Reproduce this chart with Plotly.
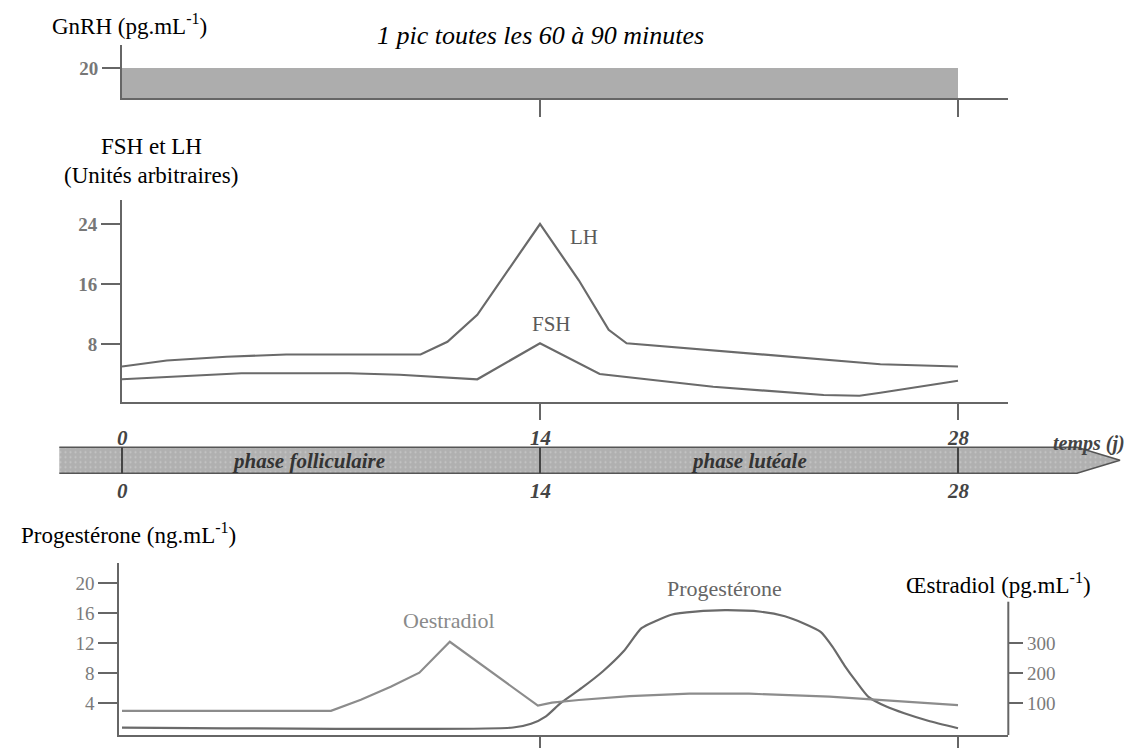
import plotly.graph_objects as go

# ---------------- data ----------------
gnrh_days = [0, 28]
gnrh_level = [20, 20]

lh_days = [0, 1.5, 3.5, 5.5, 8.6, 10.0, 10.9, 11.9, 14.0, 15.3, 16.3, 16.9, 25.4, 28.0]
lh_vals = [5.0, 5.8, 6.3, 6.6, 6.6, 6.6, 8.3, 11.9, 24.0, 16.5, 9.9, 8.1, 5.3, 5.0]

fsh_days = [0, 1.5, 4.0, 7.6, 9.3, 11.9, 14.0, 16.0, 19.8, 23.5, 24.7, 25.4, 28.0]
fsh_vals = [3.3, 3.6, 4.1, 4.1, 3.9, 3.3, 8.1, 4.0, 2.3, 1.2, 1.1, 1.5, 3.1]

prog_days = [0, 13.1, 13.7, 14.2, 14.7, 15.4, 16.1, 16.8, 17.4, 17.9, 18.4, 19.2, 20.2,
             21.4, 22.2, 22.8, 23.4, 23.8, 24.2, 24.6, 25.0, 25.6, 26.2, 27.0, 28.0]
prog_vals = [0.7, 0.7, 1.2, 2.2, 4.0, 6.0, 8.2, 10.9, 14.0, 15.0, 15.8, 16.2, 16.4,
             16.2, 15.6, 14.7, 13.5, 11.5, 9.0, 6.8, 4.8, 3.5, 2.6, 1.6, 0.6]

e2_days = [0, 7.0, 8.0, 9.0, 9.96, 10.98, 13.93, 14.4, 15.3, 17.0, 19.0, 21.0, 23.7, 25.5, 28.0]
e2_vals = [75, 75, 112, 155, 202, 305, 92, 102, 111, 124, 132, 132, 122, 110, 94]

phase_ticks = [0, 14, 28]
gnrh_ticks = [20]
fshlh_ticks = [8, 16, 24]
prog_ticks = [4, 8, 12, 16, 20]
e2_ticks = [100, 200, 300]

# ---------------- geometry helpers ----------------
W, H = 1145, 748
OFF = 8  # page body margin of the html output
SERIF = "Liberation Serif, Times New Roman, serif"
AX = "#666666"
PXDAY = 418 / 14.0


def fx(x):
    return (x - OFF) / W


def fy(y):
    return 1 - (y - OFF) / H


def dom_y(top, bottom):
    return [fy(bottom), fy(top)]


fig = go.Figure()

# GnRH panel
fig.add_trace(go.Scatter(x=gnrh_days, y=gnrh_level, mode="lines", fill="tozeroy",
                         fillcolor="#adadad", line=dict(width=0, color="#adadad"),
                         xaxis="x", yaxis="y", hoverinfo="skip"))

# FSH / LH panel
fig.add_trace(go.Scatter(x=lh_days, y=lh_vals, mode="lines",
                         line=dict(color="#6a6a6a", width=2.2), xaxis="x2", yaxis="y2"))
fig.add_trace(go.Scatter(x=fsh_days, y=fsh_vals, mode="lines",
                         line=dict(color="#6a6a6a", width=2.2), xaxis="x2", yaxis="y2"))

# Progesterone / Oestradiol panel
fig.add_trace(go.Scatter(x=prog_days, y=prog_vals, mode="lines", line_shape="spline",
                         line=dict(color="#6a6a6a", width=2.2, smoothing=0.6),
                         xaxis="x3", yaxis="y3"))
fig.add_trace(go.Scatter(x=e2_days, y=e2_vals, mode="lines",
                         line=dict(color="#8c8c8c", width=2.2), xaxis="x3", yaxis="y4"))

# time band (arrow)
x_left = (59.3 - 122) / PXDAY
x_body = (1077 - 122) / PXDAY
x_tip = (1120 - 122) / PXDAY
fig.add_trace(go.Scatter(x=[x_left, x_body, x_tip, x_body, x_left, x_left],
                         y=[1, 1, 0.5, 0, 0, 1], mode="lines", fill="toself",
                         fillcolor="#b0b0b0",
                         fillpattern=dict(shape=".", bgcolor="#b0b0b0", fgcolor="#dcdcdc",
                                          size=5, solidity=0.15),
                         line=dict(width=0), xaxis="x4", yaxis="y5", hoverinfo="skip"))
fig.add_trace(go.Scatter(x=[x_left, x_body, x_tip, x_body, x_left],
                         y=[1, 1, 0.5, 0, 0], mode="lines",
                         line=dict(color="#555555", width=1.6), xaxis="x4", yaxis="y5",
                         hoverinfo="skip"))

x_dom = [fx(122), fx(1008)]
x_rng = [0, (1008 - 122) / PXDAY]
common_x = dict(showgrid=False, zeroline=False, showline=True, linecolor=AX, linewidth=2,
                ticks="outside", tickcolor=AX, tickwidth=1.6, tickvals=phase_ticks[1:],
                showticklabels=False)
tickfont_b = dict(family=SERIF, size=19, color="#777777", weight="bold")
tickfont_r = dict(family=SERIF, size=19, color="#7a7a7a")
common_y = dict(showgrid=False, zeroline=False, showline=True, linecolor=AX, linewidth=2,
                ticks="outside", tickcolor=AX, tickwidth=1.6)

fig.update_layout(
    width=W, height=H, autosize=False, showlegend=False,
    margin=dict(l=0, r=0, t=0, b=0),
    paper_bgcolor="white", plot_bgcolor="rgba(0,0,0,0)",
    xaxis=dict(domain=x_dom, range=x_rng, anchor="y", ticklen=17, **common_x),
    yaxis=dict(domain=dom_y(45, 98), range=[0, 35.33], anchor="x", tickvals=gnrh_ticks,
               ticklen=18, tickfont=tickfont_b, **common_y),
    xaxis2=dict(domain=x_dom, range=x_rng, anchor="y2", ticklen=16, **common_x),
    yaxis2=dict(domain=dom_y(200, 401.7), range=[0.31, 27.2], anchor="x2",
                tickvals=fshlh_ticks, ticklen=19, tickfont=tickfont_b, **common_y),
    xaxis3=dict(domain=[fx(119.3), fx(1008)], range=[-0.09, x_rng[1]], anchor="y3",
                ticklen=14, **common_x),
    yaxis3=dict(domain=dom_y(562.7, 735), range=[-0.3, 22.76], anchor="x3",
                tickvals=prog_ticks, ticklen=19, tickfont=tickfont_r, **common_y),
    yaxis4=dict(domain=dom_y(562.7, 735), range=[-5.7, 568.7], overlaying="y3",
                side="right", anchor="free", position=fx(1008.3), showline=False,
                showgrid=False, zeroline=False, ticks="outside", ticklen=14,
                tickcolor=AX, tickwidth=1.6, tickvals=e2_ticks, tickfont=tickfont_r),
    xaxis4=dict(domain=[0, 1], range=[-(122 - OFF) / PXDAY, (W + OFF - 122) / PXDAY],
                anchor="y5", visible=False),
    yaxis5=dict(domain=dom_y(444.7, 475.9), range=[-0.1, 1.1], anchor="x4", visible=False),
)

shapes = []
# right axis line (oestradiol)
shapes.append(dict(type="line", xref="paper", yref="paper", x0=fx(1008.3), x1=fx(1008.3),
                   y0=fy(735), y1=fy(601.7), line=dict(color=AX, width=2)))
for d in phase_ticks:
    shapes.append(dict(type="line", xref="x4", yref="y5", x0=d, x1=d, y0=0, y1=1,
                       line=dict(color="#444444", width=2)))
fig.update_layout(shapes=shapes)

ann = []


def add_text(x, y, text, size, color="black"):
    ann.append(dict(x=fx(x), y=fy(y), xref="paper", yref="paper", text=text,
                    showarrow=False, xanchor="center", yanchor="middle",
                    font=dict(family=SERIF, size=size, color=color)))


add_text(130, 25, "GnRH (pg.mL<sup>-1</sup>)", 23)
add_text(540, 35, "<i>1 pic toutes les 60 à 90 minutes</i>", 26)
add_text(151, 147, "FSH et LH", 23)
add_text(151, 175, "(Unités arbitraires)", 23)
add_text(584, 237, "LH", 21, "#5a5a5a")
add_text(551, 324, "FSH", 21, "#5a5a5a")
add_text(128, 533, "Progestérone (ng.mL<sup>-1</sup>)", 23)
add_text(998, 583, "Œstradiol (pg.mL<sup>-1</sup>)", 23)
add_text(449, 620, "Oestradiol", 22, "#8a8a8a")
add_text(724, 588, "Progestérone", 22, "#666666")
add_text(308, 461, "<b><i>phase folliculaire</i></b>", 21, "#333333")
add_text(749, 461, "<b><i>phase lutéale</i></b>", 21, "#333333")
add_text(1089, 443, "<b><i>temps (j)</i></b>", 20, "#444444")
for d in phase_ticks:
    xx = 122 + d * PXDAY
    add_text(xx, 438, "<b><i>%d</i></b>" % d, 21, "#444444")
    add_text(xx, 491, "<b><i>%d</i></b>" % d, 21, "#444444")

fig.update_layout(annotations=ann)
fig.write_html("out.html")
